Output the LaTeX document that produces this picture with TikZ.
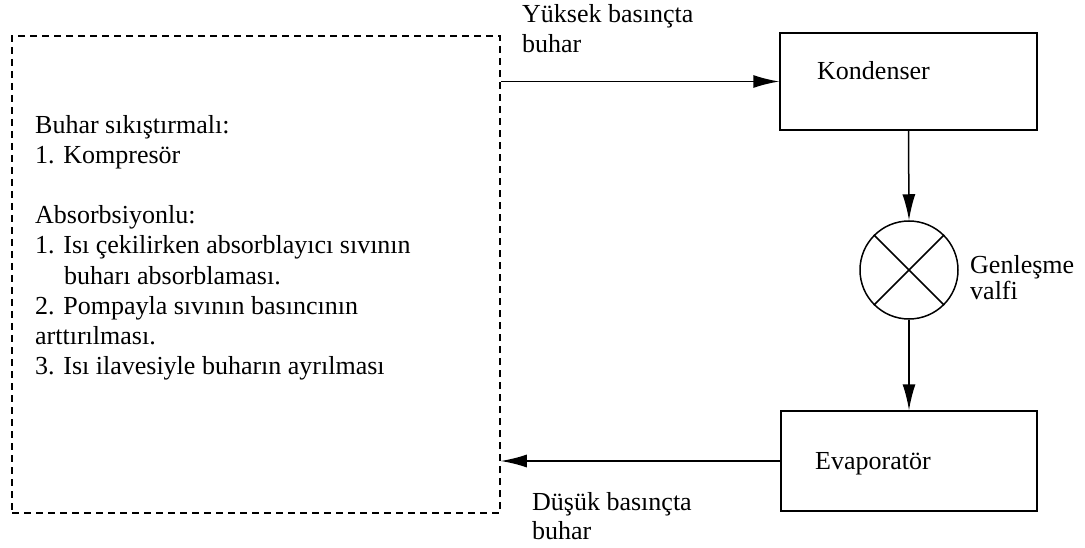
\documentclass[tikz,border=0pt]{standalone}
\usepackage{fontspec}
\setmainfont{Liberation Serif}
\usetikzlibrary{arrows.meta}
\begin{document}
\begin{tikzpicture}[x=1pt,y=-1pt,
  every node/.style={font=\fontsize{26}{30}\selectfont, inner sep=0pt},
  ln/.style={line width=1.5pt},
  arr/.style={ln,-{Latex[length=26pt,width=13pt]}},
  blk/.style={draw, ln, rectangle},
  lbl/.style={anchor=base west, align=left}]
\useasboundingbox (0,0) rectangle (1085,548);
\node[blk, dash pattern=on 7pt off 5pt, minimum width=488pt, minimum height=477pt] (dash) at (256,274.5) {};
\node[blk, minimum width=257pt, minimum height=97pt] (kond) at (908.5,81.5) {};
\node[blk, minimum width=256pt, minimum height=100pt] (evap) at (909,461) {};
\node[draw, ln, circle, minimum size=98pt] (valf) at (909,270) {};
\draw[ln] (valf.north west) -- (valf.south east);
\draw[ln] (valf.north east) -- (valf.south west);
\node[lbl] (kondt) at (817,80) {Kondenser};
\node[lbl] (evapt) at (815,469) {Evaporatör};
\node[lbl] (valft) at (970,273) {Genleşme};
\node[lbl] (valft2) at (970,300) {valfi};
\node[lbl] (yuk) at (522,23) {Yüksek basınçta};
\node[lbl] (yuk2) at (522,53) {buhar};
\node[lbl] (dus) at (532,510) {Düşük basınçta};
\node[lbl] (dus2) at (532,539) {buhar};
\node[lbl] (l1) at (35,134) {Buhar sıkıştırmalı:};
\node[lbl] (l2) at (35,164) {1. Kompresör};
\node[lbl] (l3) at (35,224) {Absorbsiyonlu:};
\node[lbl] (l4) at (35,254) {1. Isı çekilirken absorblayıcı sıvının};
\node[lbl] (l5) at (64,284) {buharı absorblaması.};
\node[lbl] (l6) at (35,314) {2. Pompayla sıvının basıncının};
\node[lbl] (l7) at (35,344) {arttırılması.};
\node[lbl] (l8) at (35,374) {3. Isı ilavesiyle buharın ayrılması};
\draw[arr] (kond.west -| dash.east) -- (kond.west);
\draw[arr] (kond.south) -- (valf.north);
\draw[arr] (valf.south) -- (evap.north);
\draw[arr] (evap.west) -- (evap.west -| dash.east);
\end{tikzpicture}
\end{document}
